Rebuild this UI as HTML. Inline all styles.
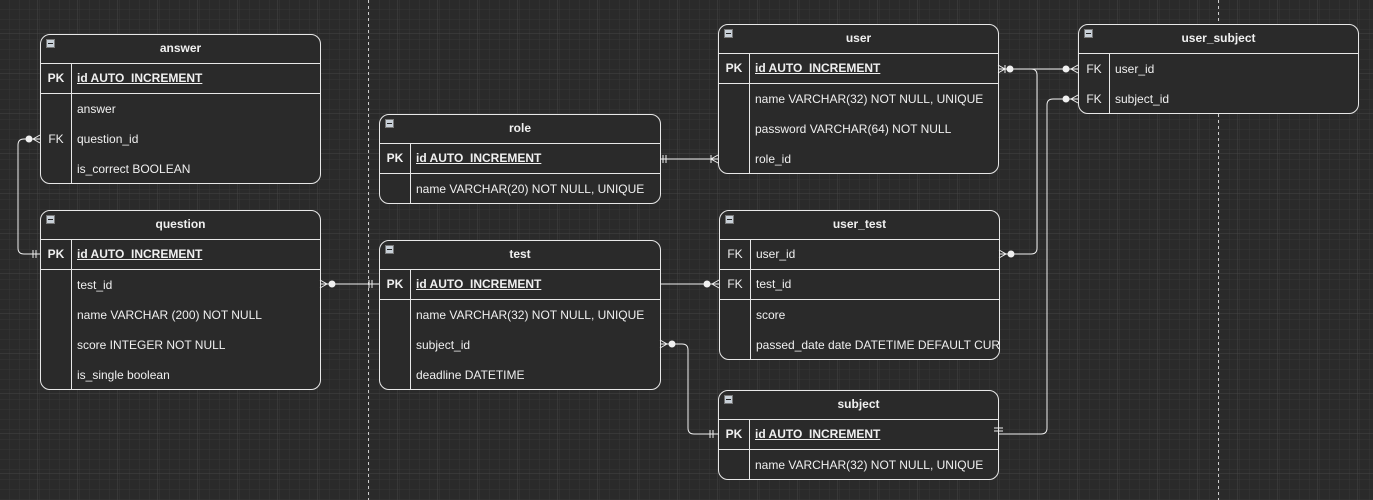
<!DOCTYPE html>
<html><head><meta charset="utf-8"><style>
body{margin:0;width:1373px;height:500px;overflow:hidden;background:#2a2a2a;font-family:"Liberation Sans",Arial,sans-serif;position:relative}
#grid{position:absolute;left:0;top:0}
.t{position:absolute;border:1px solid #e8e8e8;border-radius:10px;overflow:hidden;background:#2a2a2a;color:#f0f0f0;font-size:12px;box-sizing:border-box}
.h{height:30px;line-height:29px;text-align:center;font-weight:bold;border-bottom:1px solid #e8e8e8;position:relative;box-sizing:border-box;margin-top:-1px}
.h:before{content:"";position:absolute;left:5px;top:5px;width:9px;height:9px;background:#c8d0d8;border:1px solid #777;box-sizing:border-box}
.h:after{content:"";position:absolute;left:7px;top:9px;width:5px;height:1px;background:#222}
.r{height:30px;line-height:30px;position:relative;white-space:nowrap;box-sizing:border-box}
.k{position:absolute;left:0;top:0;width:30px;text-align:center;height:100%}
.v{position:absolute;left:36px;top:0}
.b{border-bottom:1px solid #e8e8e8;line-height:29px}
.pk{font-weight:bold}.pk .v{text-decoration:underline}
.col{position:absolute;left:30px;top:29px;bottom:0;border-left:1px solid #e8e8e8}
svg.c{position:absolute;left:0;top:0}
</style></head><body>
<svg id="grid" width="1373" height="500">
<defs>
<pattern id="g1" width="10" height="10" patternUnits="userSpaceOnUse"><path d="M10 0V10H0" fill="none" stroke="#363636" stroke-width="1"/></pattern>
<pattern id="g2" width="40" height="40" patternUnits="userSpaceOnUse" x="-2" y="-6"><path d="M40 0V40H0" fill="none" stroke="#444" stroke-width="1"/></pattern>
</defs>
<rect width="1373" height="500" fill="url(#g1)"/>
<rect width="1373" height="500" fill="url(#g2)"/>
<line x1="368.5" y1="0" x2="368.5" y2="500" stroke="#ccc" stroke-dasharray="3,3"/>
<line x1="1218.5" y1="0" x2="1218.5" y2="500" stroke="#ccc" stroke-dasharray="3,3"/>
</svg>

<div class="t" style="left:40px;top:34px;width:281px;height:150px">
<div class="h">answer</div><div class="col"></div>
<div class="r pk b"><span class="k">PK</span><span class="v">id AUTO_INCREMENT</span></div>
<div class="r"><span class="v">answer</span></div>
<div class="r"><span class="k">FK</span><span class="v">question_id</span></div>
<div class="r"><span class="v">is_correct BOOLEAN</span></div>
</div>

<div class="t" style="left:40px;top:210px;width:281px;height:180px">
<div class="h">question</div><div class="col"></div>
<div class="r pk b"><span class="k">PK</span><span class="v">id AUTO_INCREMENT</span></div>
<div class="r"><span class="v">test_id</span></div>
<div class="r"><span class="v">name VARCHAR (200) NOT NULL</span></div>
<div class="r"><span class="v">score INTEGER NOT NULL</span></div>
<div class="r"><span class="v">is_single boolean</span></div>
</div>

<div class="t" style="left:379px;top:114px;width:282px;height:90px">
<div class="h">role</div><div class="col"></div>
<div class="r pk b"><span class="k">PK</span><span class="v">id AUTO_INCREMENT</span></div>
<div class="r"><span class="v">name VARCHAR(20) NOT NULL, UNIQUE</span></div>
</div>

<div class="t" style="left:379px;top:240px;width:282px;height:150px">
<div class="h">test</div><div class="col"></div>
<div class="r pk b"><span class="k">PK</span><span class="v">id AUTO_INCREMENT</span></div>
<div class="r"><span class="v">name VARCHAR(32) NOT NULL, UNIQUE</span></div>
<div class="r"><span class="v">subject_id</span></div>
<div class="r"><span class="v">deadline DATETIME</span></div>
</div>

<div class="t" style="left:718px;top:24px;width:281px;height:150px">
<div class="h">user</div><div class="col"></div>
<div class="r pk b"><span class="k">PK</span><span class="v">id AUTO_INCREMENT</span></div>
<div class="r"><span class="v">name VARCHAR(32) NOT NULL, UNIQUE</span></div>
<div class="r"><span class="v">password VARCHAR(64) NOT NULL</span></div>
<div class="r"><span class="v">role_id</span></div>
</div>

<div class="t" style="left:719px;top:210px;width:281px;height:150px">
<div class="h">user_test</div><div class="col"></div>
<div class="r b"><span class="k">FK</span><span class="v">user_id</span></div>
<div class="r b"><span class="k">FK</span><span class="v">test_id</span></div>
<div class="r"><span class="v">score</span></div>
<div class="r"><span class="v">passed_date date DATETIME DEFAULT CURRENT_TIMESTAMP</span></div>
</div>

<div class="t" style="left:718px;top:390px;width:281px;height:90px">
<div class="h">subject</div><div class="col"></div>
<div class="r pk b"><span class="k">PK</span><span class="v">id AUTO_INCREMENT</span></div>
<div class="r"><span class="v">name VARCHAR(32) NOT NULL, UNIQUE</span></div>
</div>

<div class="t" style="left:1078px;top:24px;width:281px;height:90px">
<div class="h">user_subject</div><div class="col"></div>
<div class="r"><span class="k">FK</span><span class="v">user_id</span></div>
<div class="r"><span class="k">FK</span><span class="v">subject_id</span></div>
</div>

<svg class="c" width="1373" height="500" fill="none" stroke="#f0f0f0" stroke-width="1">
<path d="M40 139H24Q18 139 18 145V248Q18 254 24 254H40"/>
<circle cx="29" cy="139" r="3" fill="#f0f0f0"/><path d="M40 135L33 139L40 143"/>
<path d="M33 250V258M36 250V258"/>
<path d="M320 284H379"/><circle cx="332" cy="284" r="3" fill="#f0f0f0"/><path d="M320 280L327 284L320 288"/>
<path d="M369 280V288M372 280V288"/>
<path d="M660 159H718"/><path d="M663 155V163M666 155V163"/><path d="M718 155L711 159L718 163M711 155V163"/>
<path d="M660 284H719"/><circle cx="707" cy="284" r="3" fill="#f0f0f0"/><path d="M719 280L712 284L719 288"/>
<path d="M660 344H682Q688 344 688 350V428Q688 434 694 434H718"/>
<circle cx="672" cy="344" r="3" fill="#f0f0f0"/><path d="M660 340L667 344L660 348"/>
<path d="M710 430V438M713 430V438"/>
<path d="M998 69H1078"/><path d="M998 65L1005 69L998 73M1005 65V73"/><circle cx="1010" cy="69" r="3" fill="#f0f0f0"/>
<circle cx="1066" cy="69" r="3" fill="#f0f0f0"/><path d="M1078 65L1071 69L1078 73"/>
<path d="M1010 69H1031Q1037 69 1037 75V248Q1037 254 1031 254H999"/>
<circle cx="1011" cy="254" r="3" fill="#f0f0f0"/><path d="M999 250L1006 254L999 258"/>
<path d="M998 434H1041Q1047 434 1047 428V105Q1047 99 1053 99H1078"/>
<path d="M994 428H1003M994 431H1003"/>
<circle cx="1066" cy="99" r="3" fill="#f0f0f0"/><path d="M1078 95L1071 99L1078 103"/>
</svg>
</body></html>
